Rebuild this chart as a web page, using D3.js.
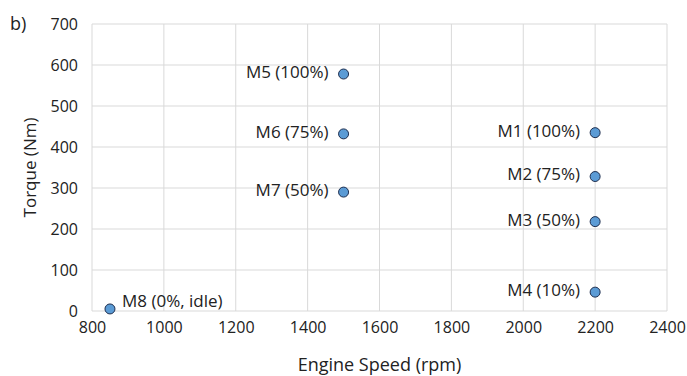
<!DOCTYPE html>
<html><head><meta charset="utf-8">
<script src="https://cdn.jsdelivr.net/npm/d3@7"></script>
<style>body{margin:0;background:#fff}svg{display:block}</style>
</head><body>
<svg id="c" width="687" height="376"></svg>
<script>
const names = ["M1 (100%)","M2 (75%)","M3 (50%)","M4 (10%)","M5 (100%)","M6 (75%)","M7 (50%)","M8 (0%, idle)"];
const speed = [2200,2200,2200,2200,1500,1500,1500,850];
const torque = [435,328,218,46,578,432,290,5];
const xTicks = [800,1000,1200,1400,1600,1800,2000,2200,2400];
const yTicks = [0,100,200,300,400,500,600,700];

const svg = d3.select("#c");
const m = {l:92, r:20, t:24, b:65};
const W = 687, H = 376;
const x = d3.scaleLinear().domain([800,2400]).range([m.l, W-m.r]);
const y = d3.scaleLinear().domain([0,700]).range([H-m.b, m.t]);
const font = "'Open Sans', sans-serif";
const tc = "#222";

// gridlines
svg.append("g").selectAll("line").data(xTicks).join("line")
  .attr("x1",d=>x(d)).attr("x2",d=>x(d)).attr("y1",y(0)).attr("y2",y(700))
  .attr("stroke","#d9d9d9");
svg.append("g").selectAll("line").data(yTicks).join("line")
  .attr("x1",x(800)).attr("x2",x(2400)).attr("y1",d=>y(d)).attr("y2",d=>y(d))
  .attr("stroke","#d9d9d9");

const xa = svg.append("g").attr("transform",`translate(0,${y(0)})`)
  .call(d3.axisBottom(x).tickValues(xTicks).tickSize(0).tickPadding(11).tickFormat(d3.format("d")));
const ya = svg.append("g").attr("transform",`translate(${x(800)},0)`)
  .call(d3.axisLeft(y).tickValues(yTicks).tickSize(0).tickPadding(14).tickFormat(d3.format("d")));
[xa,ya].forEach(a=>{
  a.select(".domain").remove();
  a.selectAll("text").attr("font-family",font).attr("font-size",16).attr("fill",tc);
});

// axis titles
svg.append("text").attr("x",(x(800)+x(2400))/2).attr("y",371).attr("text-anchor","middle")
  .attr("font-family",font).attr("font-size",18).attr("fill",tc).text("Engine Speed (rpm)");
svg.append("text").attr("transform",`translate(36,${(y(0)+y(700))/2}) rotate(-90)`).attr("text-anchor","middle")
  .attr("font-family",font).attr("font-size",17).attr("fill",tc).text("Torque (Nm)");
svg.append("text").attr("x",10).attr("y",30).attr("font-family",font).attr("font-size",18).attr("fill",tc).text("b)");

const data = names.map((n,i)=>({n, s:speed[i], t:torque[i]}));
svg.append("g").selectAll("circle").data(data).join("circle")
  .attr("cx",d=>x(d.s)).attr("cy",d=>y(d.t)).attr("r",5)
  .attr("fill","#5b9bd5").attr("stroke","#1f2f4f").attr("stroke-width",1);

svg.append("g").selectAll("text").data(data).join("text")
  .attr("x",d=> d.s<1000 ? x(d.s)+12 : x(d.s)-15)
  .attr("y",d=> d.s<1000 ? y(d.t)-8 : y(d.t)-2)
  .attr("dy","0.35em")
  .attr("text-anchor",d=> d.s<1000 ? "start" : "end")
  .attr("font-family",font).attr("font-size",17).attr("fill",tc)
  .text(d=>d.n);
</script>
</body></html>
